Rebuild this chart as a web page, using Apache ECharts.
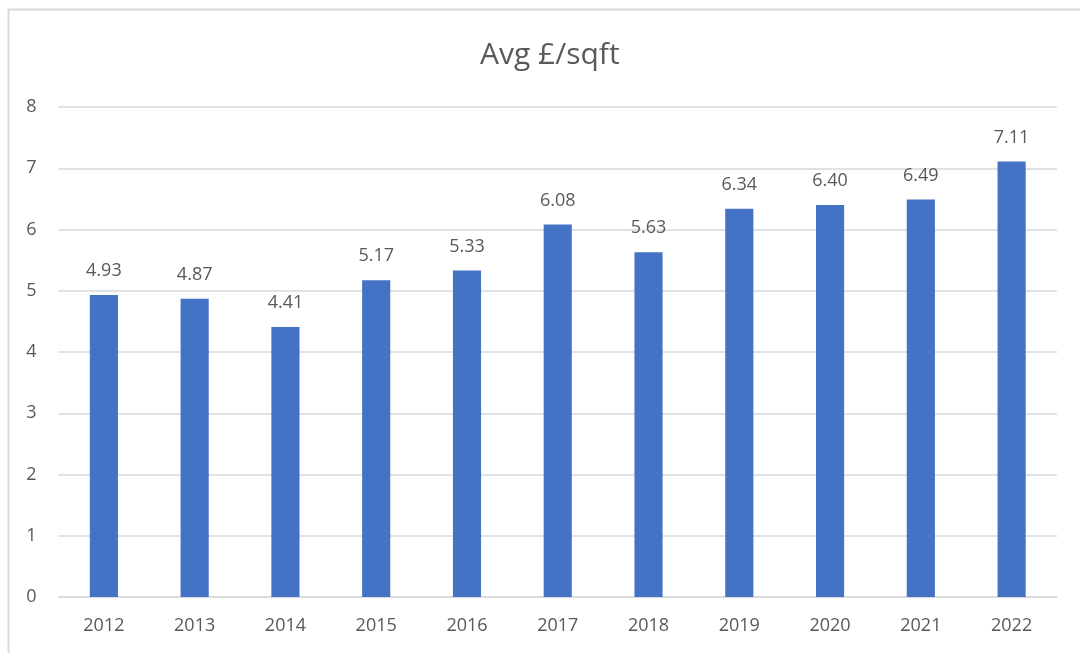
<!DOCTYPE html>
<html>
<head>
<meta charset="utf-8">
<script src="https://cdn.jsdelivr.net/npm/echarts@6/dist/echarts.min.js"></script>
<style>
html,body{margin:0;padding:0;background:#fff;}
#c{width:1080px;height:653px;}
</style>
</head>
<body>
<div id="c"></div>
<script>
const categories = ['2012','2013','2014','2015','2016','2017','2018','2019','2020','2021','2022'];
const values = [4.93, 4.87, 4.41, 5.17, 5.33, 6.08, 5.63, 6.34, 6.40, 6.49, 7.11];
const yTicks = [0,1,2,3,4,5,6,7,8];
const titleText = 'Avg £/sqft';

const chart = echarts.init(document.getElementById('c'), null, {renderer:'canvas'});
const font = "'Open Sans', 'Liberation Sans', sans-serif";
chart.setOption({
  animation:false,
  backgroundColor:'#ffffff',
  graphic:[{
    type:'polyline', silent:true,
    shape:{points:[[8.5,660],[8.5,9.5],[1090,9.5]]},
    style:{stroke:'#d9d9d9', lineWidth:2, fill:null}
  }],
  title:{
    text:titleText, left:475, top:35,
    textStyle:{fontFamily:font, fontSize:30, fontWeight:'normal', color:'#595959'}
  },
  grid:{left:58.5, right:23, top:107, bottom:56, containLabel:false},
  xAxis:{
    type:'category', data:categories,
    axisLine:{lineStyle:{color:'#d9d9d9', width:1.5}},
    axisTick:{show:false},
    axisLabel:{fontFamily:font, fontSize:18, color:'#595959', margin:20}
  },
  yAxis:{
    type:'value', min:yTicks[0], max:yTicks[yTicks.length-1], interval:1,
    axisLine:{show:false}, axisTick:{show:false},
    splitLine:{lineStyle:{color:'#d9d9d9', width:1.5}},
    axisLabel:{fontFamily:font, fontSize:18, color:'#595959', margin:22}
  },
  series:[{
    type:'bar', data:values, barWidth:'31%',
    itemStyle:{color:'#4472c4'},
    label:{show:true, position:'top', distance:15, fontFamily:font, fontSize:18, color:'#595959',
      formatter:p=>p.value.toFixed(2)}
  }]
});
</script>
</body>
</html>
